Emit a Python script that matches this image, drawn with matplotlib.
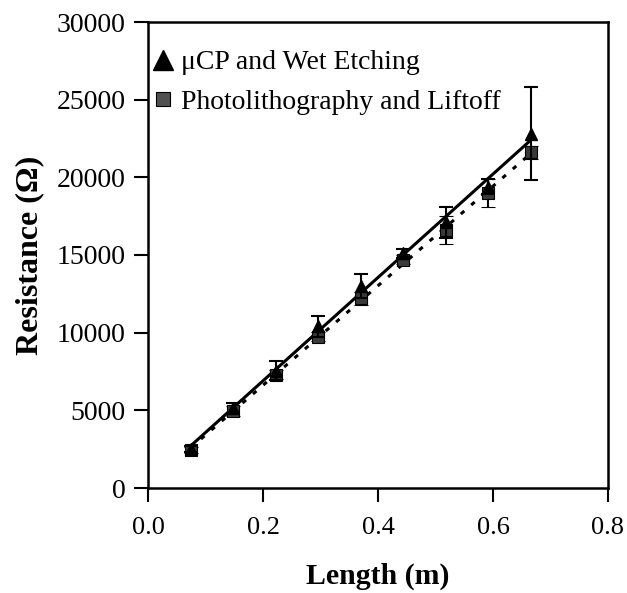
import numpy as np
import matplotlib
matplotlib.use("Agg")
import matplotlib.pyplot as plt
from matplotlib.lines import Line2D

plt.rcParams['font.family'] = ['Liberation Serif', 'DejaVu Serif']

length = [0.074, 0.148, 0.222, 0.296, 0.370, 0.444, 0.518, 0.592, 0.666]
ucp_res = [2500, 5150, 7550, 10400, 13000, 15100, 17100, 19400, 22800]
ucp_err = [200, 350, 600, 700, 800, 300, 1000, 500, 3000]
photo_res = [2450, 4950, 7300, 9750, 12200, 14700, 16600, 19000, 21600]
photo_err = [200, 300, 300, 300, 400, 300, 900, 900, 400]

labels = ["\u03bcCP and Wet Etching", "Photolithography and Liftoff"]
xticks = [0.0, 0.2, 0.4, 0.6, 0.8]
yticks = [0, 5000, 10000, 15000, 20000, 25000, 30000]

fig = plt.figure(figsize=(6.27, 5.93), dpi=100)
ax = fig.add_axes([148 / 627, 1 - 488 / 593, (608 - 148) / 627, (488 - 22) / 593])

x = np.array(length)
# linear fits
p1 = np.polyfit(x, ucp_res, 1)
p2 = np.polyfit(x, photo_res, 1)
ax.plot(x, np.polyval(p1, x), color='black', lw=2.2, zorder=2)
ax.plot(x, np.polyval(p2, x), color='black', lw=2.2, linestyle=(0, (1.5, 3)), zorder=2)

ax.errorbar(x, photo_res, yerr=photo_err, fmt='s', color='#3a3a3a', mec='black',
            mew=0.8, ms=8, ecolor='black', elinewidth=1.5, capsize=5, capthick=1.5, zorder=3)
ax.errorbar(x, ucp_res, yerr=ucp_err, fmt='^', color='black', ms=8,
            ecolor='black', elinewidth=1.5, capsize=5, capthick=1.5, zorder=4)

handles = [Line2D([], [], marker='^', color='black', linestyle='none', ms=14),
           Line2D([], [], marker='s', color='#505050', mec='black', mew=0.8, linestyle='none', ms=10)]
leg = ax.legend(handles, labels, loc='upper left', frameon=False, fontsize=20,
                handlelength=0.7, handletextpad=0.3, borderaxespad=0.0,
                bbox_to_anchor=(0.0, 0.952), labelspacing=0.5, borderpad=0.2)

ax.set_xlim(0, 0.8)
ax.set_ylim(0, 30000)
ax.set_xticks(xticks)
ax.set_xticklabels([f"{t:.1f}" for t in xticks])
ax.set_yticks(yticks)
ax.set_yticklabels([str(t) for t in yticks])
ax.tick_params(direction='out', length=10, width=1.5, pad=8)
ax.tick_params(axis='y', labelsize=20, pad=6)
ax.tick_params(axis='x', labelsize=19, pad=11)
for s in ax.spines.values():
    s.set_linewidth(1.8)

ax.set_xlabel("Length (m)", fontsize=21.5, fontweight='bold', labelpad=17)
ax.set_ylabel("Resistance (\u03a9)", fontsize=23, fontweight='bold', labelpad=9)

fig.savefig("out.png", dpi=100)
